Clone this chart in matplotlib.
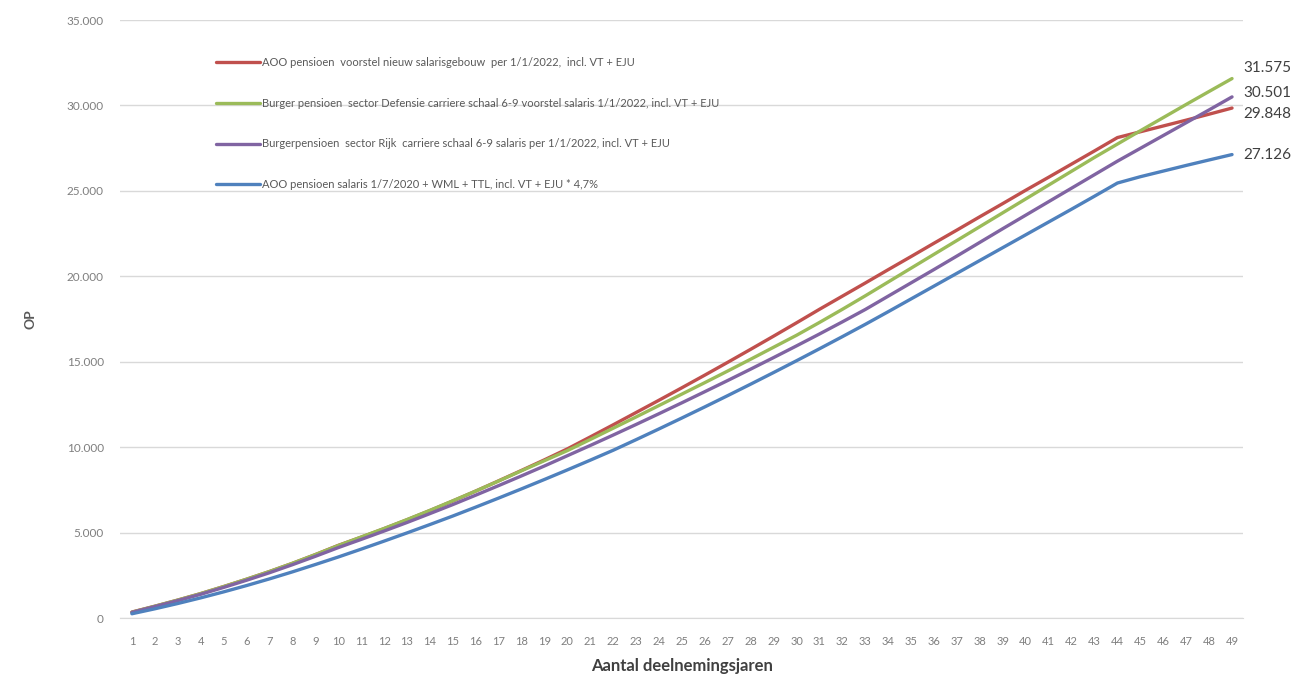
import matplotlib
matplotlib.use("Agg")
import matplotlib.pyplot as plt
from matplotlib.ticker import FuncFormatter, MultipleLocator

plt.rcParams['font.family'] = ['Lato', 'DejaVu Sans']

# Aantal deelnemingsjaren 1..49
years = list(range(1, 50))

labels = [
    "AOO pensioen  voorstel nieuw salarisgebouw  per 1/1/2022,  incl. VT + EJU",
    "Burger pensioen  sector Defensie carriere schaal 6-9 voorstel salaris 1/1/2022, incl. VT + EJU",
    "Burgerpensioen  sector Rijk  carriere schaal 6-9 salaris per 1/1/2022, incl. VT + EJU",
    "AOO pensioen salaris 1/7/2020 + WML + TTL, incl. VT + EJU * 4,7%",
]

aoo_nieuw = [350, 690, 1050, 1430, 1840, 2270, 2720, 3200, 3710, 4250,
             4730, 5230, 5750, 6290, 6850, 7430, 8030, 8640, 9260, 9900,
             10600, 11310, 12030, 12750, 13480, 14220, 14970, 15730, 16500, 17280,
             18070, 18840, 19610, 20390, 21160, 21940, 22710, 23490, 24260, 25040,
             25800, 26570, 27340, 28120, 28460, 28800, 29140, 29490, 29848]

defensie = [340, 690, 1050, 1430, 1840, 2270, 2720, 3200, 3710, 4240,
            4740, 5240, 5760, 6300, 6860, 7430, 8020, 8620, 9210, 9800,
            10450, 11110, 11770, 12440, 13110, 13780, 14460, 15150, 15850, 16550,
            17300, 18070, 18860, 19670, 20480, 21290, 22100, 22910, 23720, 24530,
            25340, 26150, 26960, 27740, 28520, 29290, 30060, 30820, 31575]

rijk = [330, 670, 1020, 1390, 1790, 2210, 2650, 3120, 3610, 4120,
        4600, 5090, 5590, 6110, 6640, 7190, 7750, 8320, 8900, 9500,
        10100, 10710, 11330, 11960, 12600, 13250, 13905, 14570, 15245, 15930,
        16625, 17335, 18060, 18840, 19620, 20400, 21190, 21990, 22790, 23580,
        24370, 25160, 25950, 26740, 27490, 28240, 28990, 29740, 30501]

aoo_2020 = [250, 540, 850, 1180, 1530, 1900, 2290, 2700, 3130, 3570,
            4030, 4500, 4980, 5470, 5970, 6490, 7020, 7560, 8110, 8670,
            9240, 9820, 10440, 11070, 11710, 12360, 13020, 13690, 14370, 15060,
            15760, 16470, 17190, 17930, 18680, 19430, 20180, 20930, 21680, 22430,
            23180, 23930, 24690, 25460, 25830, 26160, 26490, 26810, 27126]

series = [aoo_nieuw, defensie, rijk, aoo_2020]
colors = ["#C0504D", "#9BBB59", "#8064A2", "#4F81BD"]
end_offsets = [-6, 11, 4, 0]  # vertical pixel offsets for end labels

fig = plt.figure(figsize=(12.98, 6.79), dpi=100)
ax = fig.add_axes([0.0928, 0.0898, 0.8652, 0.8807])

for vals, col, lab in zip(series, colors, labels):
    ax.plot(years, vals, color=col, linewidth=2.4, label=lab, solid_capstyle="round")

# waarden aan het eind van elke lijn
for vals, off in zip(series, end_offsets):
    ax.annotate(f"{vals[-1]:,}".replace(",", "."), xy=(years[-1], vals[-1]),
                xytext=(11, off), textcoords="offset pixels", va="center", ha="left",
                fontsize=11, color="#404040")

ax.set_xlim(0.5, 49.5)
ax.set_ylim(0, 35000)
ax.yaxis.set_major_locator(MultipleLocator(5000))
ax.yaxis.set_major_formatter(FuncFormatter(lambda v, p: f"{v:,.0f}".replace(",", ".")))
ax.set_xticks(years)
ax.set_xticklabels([str(y) for y in years])
ax.tick_params(axis="both", length=0, labelsize=8, colors="#7F7F7F")
ax.tick_params(axis="y", pad=12, labelsize=8.5)
ax.tick_params(axis="x", pad=13)

ax.grid(axis="y", color="#D9D9D9", linewidth=1)
ax.set_axisbelow(True)
for s in ["top", "right", "left"]:
    ax.spines[s].set_visible(False)
ax.spines["bottom"].set_color("#D9D9D9")

ax.set_ylabel("OP", fontsize=10, fontweight="bold", color="#595959", labelpad=22)
ax.set_xlabel("Aantal deelnemingsjaren", fontsize=12, fontweight="bold", color="#404040", labelpad=8)

ax.legend(loc="upper left", bbox_to_anchor=(0.0765, 0.955), frameon=False,
          fontsize=8, labelspacing=2.68, handlelength=3.9, handletextpad=0.2,
          labelcolor="#595959")

fig.savefig("out.png", dpi=100)
